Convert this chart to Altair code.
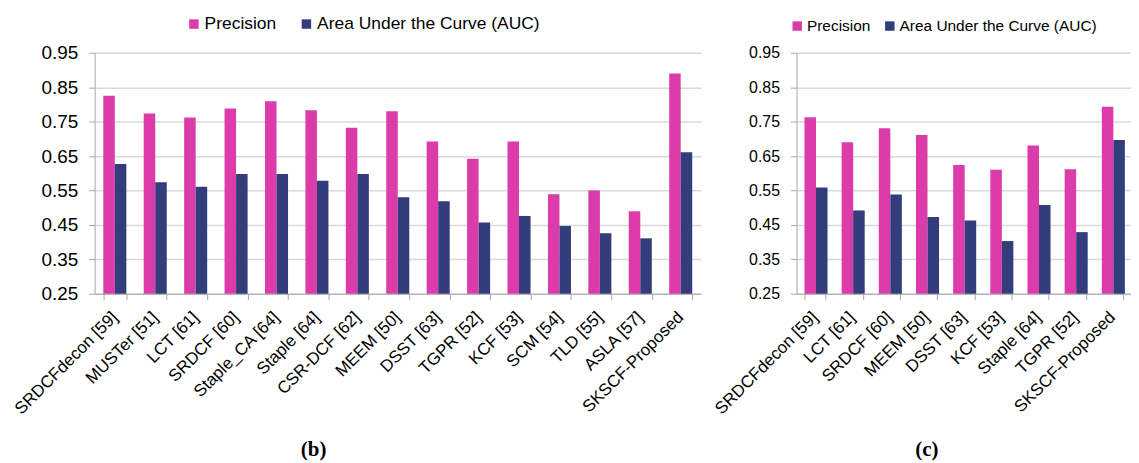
import altair as alt
import pandas as pd

metrics = ["Precision", "Area Under the Curve (AUC)"]
colors = ["#DC3CA9", "#333D7B"]
y_ticks = [0.25, 0.35, 0.45, 0.55, 0.65, 0.75, 0.85, 0.95]

models_b = ["SRDCFdecon [59]", "MUSTer [51]", "LCT [61]", "SRDCF [60]", "Staple_CA [64]",
            "Staple [64]", "CSR-DCF [62]", "MEEM [50]", "DSST [63]", "TGPR [52]",
            "KCF [53]", "SCM [54]", "TLD [55]", "ASLA [57]", "SKSCF-Proposed"]
precision_b = [0.825, 0.774, 0.762, 0.788, 0.809, 0.783, 0.732, 0.780, 0.692, 0.642,
               0.692, 0.539, 0.550, 0.490, 0.890]
auc_b = [0.627, 0.574, 0.561, 0.598, 0.598, 0.578, 0.598, 0.530, 0.519, 0.457,
         0.476, 0.447, 0.426, 0.411, 0.661]

models_c = ["SRDCFdecon [59]", "LCT [61]", "SRDCF [60]", "MEEM [50]", "DSST [63]",
            "KCF [53]", "Staple [64]", "TGPR [52]", "SKSCF-Proposed"]
precision_c = [0.763, 0.690, 0.731, 0.711, 0.624, 0.610, 0.681, 0.612, 0.793]
auc_c = [0.559, 0.492, 0.538, 0.473, 0.463, 0.403, 0.508, 0.429, 0.697]

FONT = "Liberation Sans"
GRID = "#d9d9d9"
AXIS = "#a6a6a6"


def panel(models, prec, auc, width, height, caption, cap_x, ylab, leg_font, leg_x, leg_y, leg_gap):
    n = len(models)
    df = pd.DataFrame({
        "model": models + models,
        "metric": [metrics[0]] * n + [metrics[1]] * n,
        "value": prec + auc,
    })
    bars = alt.Chart(df).mark_bar().encode(
        x=alt.X("model:N", sort=models, title=None,
                scale=alt.Scale(paddingInner=0.43, paddingOuter=0.215),
                axis=alt.Axis(labelAngle=-45, labelAlign="right", labelBaseline="top",
                              labelFontSize=17, labelFont=FONT, labelColor="#000000",
                              labelPadding=9, labelOffset=-6, tickBand="extent",
                              tickSize=6, tickColor=AXIS, domainColor=AXIS, grid=False,
                              labelOverlap=False, labelLimit=0)),
        xOffset=alt.XOffset("metric:N", sort=metrics),
        y=alt.Y("value:Q", title=None,
                scale=alt.Scale(domain=[0.25, 0.95], nice=False, zero=False),
                axis=alt.Axis(values=y_ticks, format=".2f", labelFontSize=ylab, labelFont=FONT,
                              labelColor="#000000", tickSize=6, tickColor=AXIS,
                              domainColor=AXIS, gridColor=GRID, gridWidth=1.5,
                              labelPadding=11)),
        y2=alt.datum(0.25),
        color=alt.Color("metric:N", sort=metrics,
                        scale=alt.Scale(domain=metrics, range=colors),
                        legend=alt.Legend(orient="none", legendX=leg_x, legendY=leg_y,
                                          direction="horizontal", title=None,
                                          symbolType="square", symbolSize=90,
                                          symbolStrokeWidth=0, labelFontSize=leg_font,
                                          labelFont=FONT, labelColor="#000000",
                                          columnPadding=leg_gap, labelOffset=2,
                                          labelLimit=0)),
    )
    cap = alt.Chart(pd.DataFrame({"cap": [caption]})).mark_text(
        font="Liberation Serif", fontWeight="bold", fontSize=21, color="#000000",
        baseline="middle", align="center"
    ).encode(text="cap:N", x=alt.value(cap_x), y=alt.value(399))
    return alt.layer(bars, cap).properties(width=width, height=height)


left = panel(models_b, precision_b, auc_b, 609, 242, "(b)", 220, 19, 17.5, 91, -38, 21)
right = panel(models_c, precision_c, auc_c, 336, 242, "(c)", 131, 16, 15.5, -7, -35, 11)

chart = alt.hconcat(left, right, spacing=96, bounds="flush").resolve_scale(
    color="independent", x="independent", y="independent"
).properties(
    padding={"left": 3, "top": 6, "right": 0, "bottom": 0}
).configure_view(stroke=None)

chart.save("out.html", embed_options={"renderer": "svg", "actions": False})
